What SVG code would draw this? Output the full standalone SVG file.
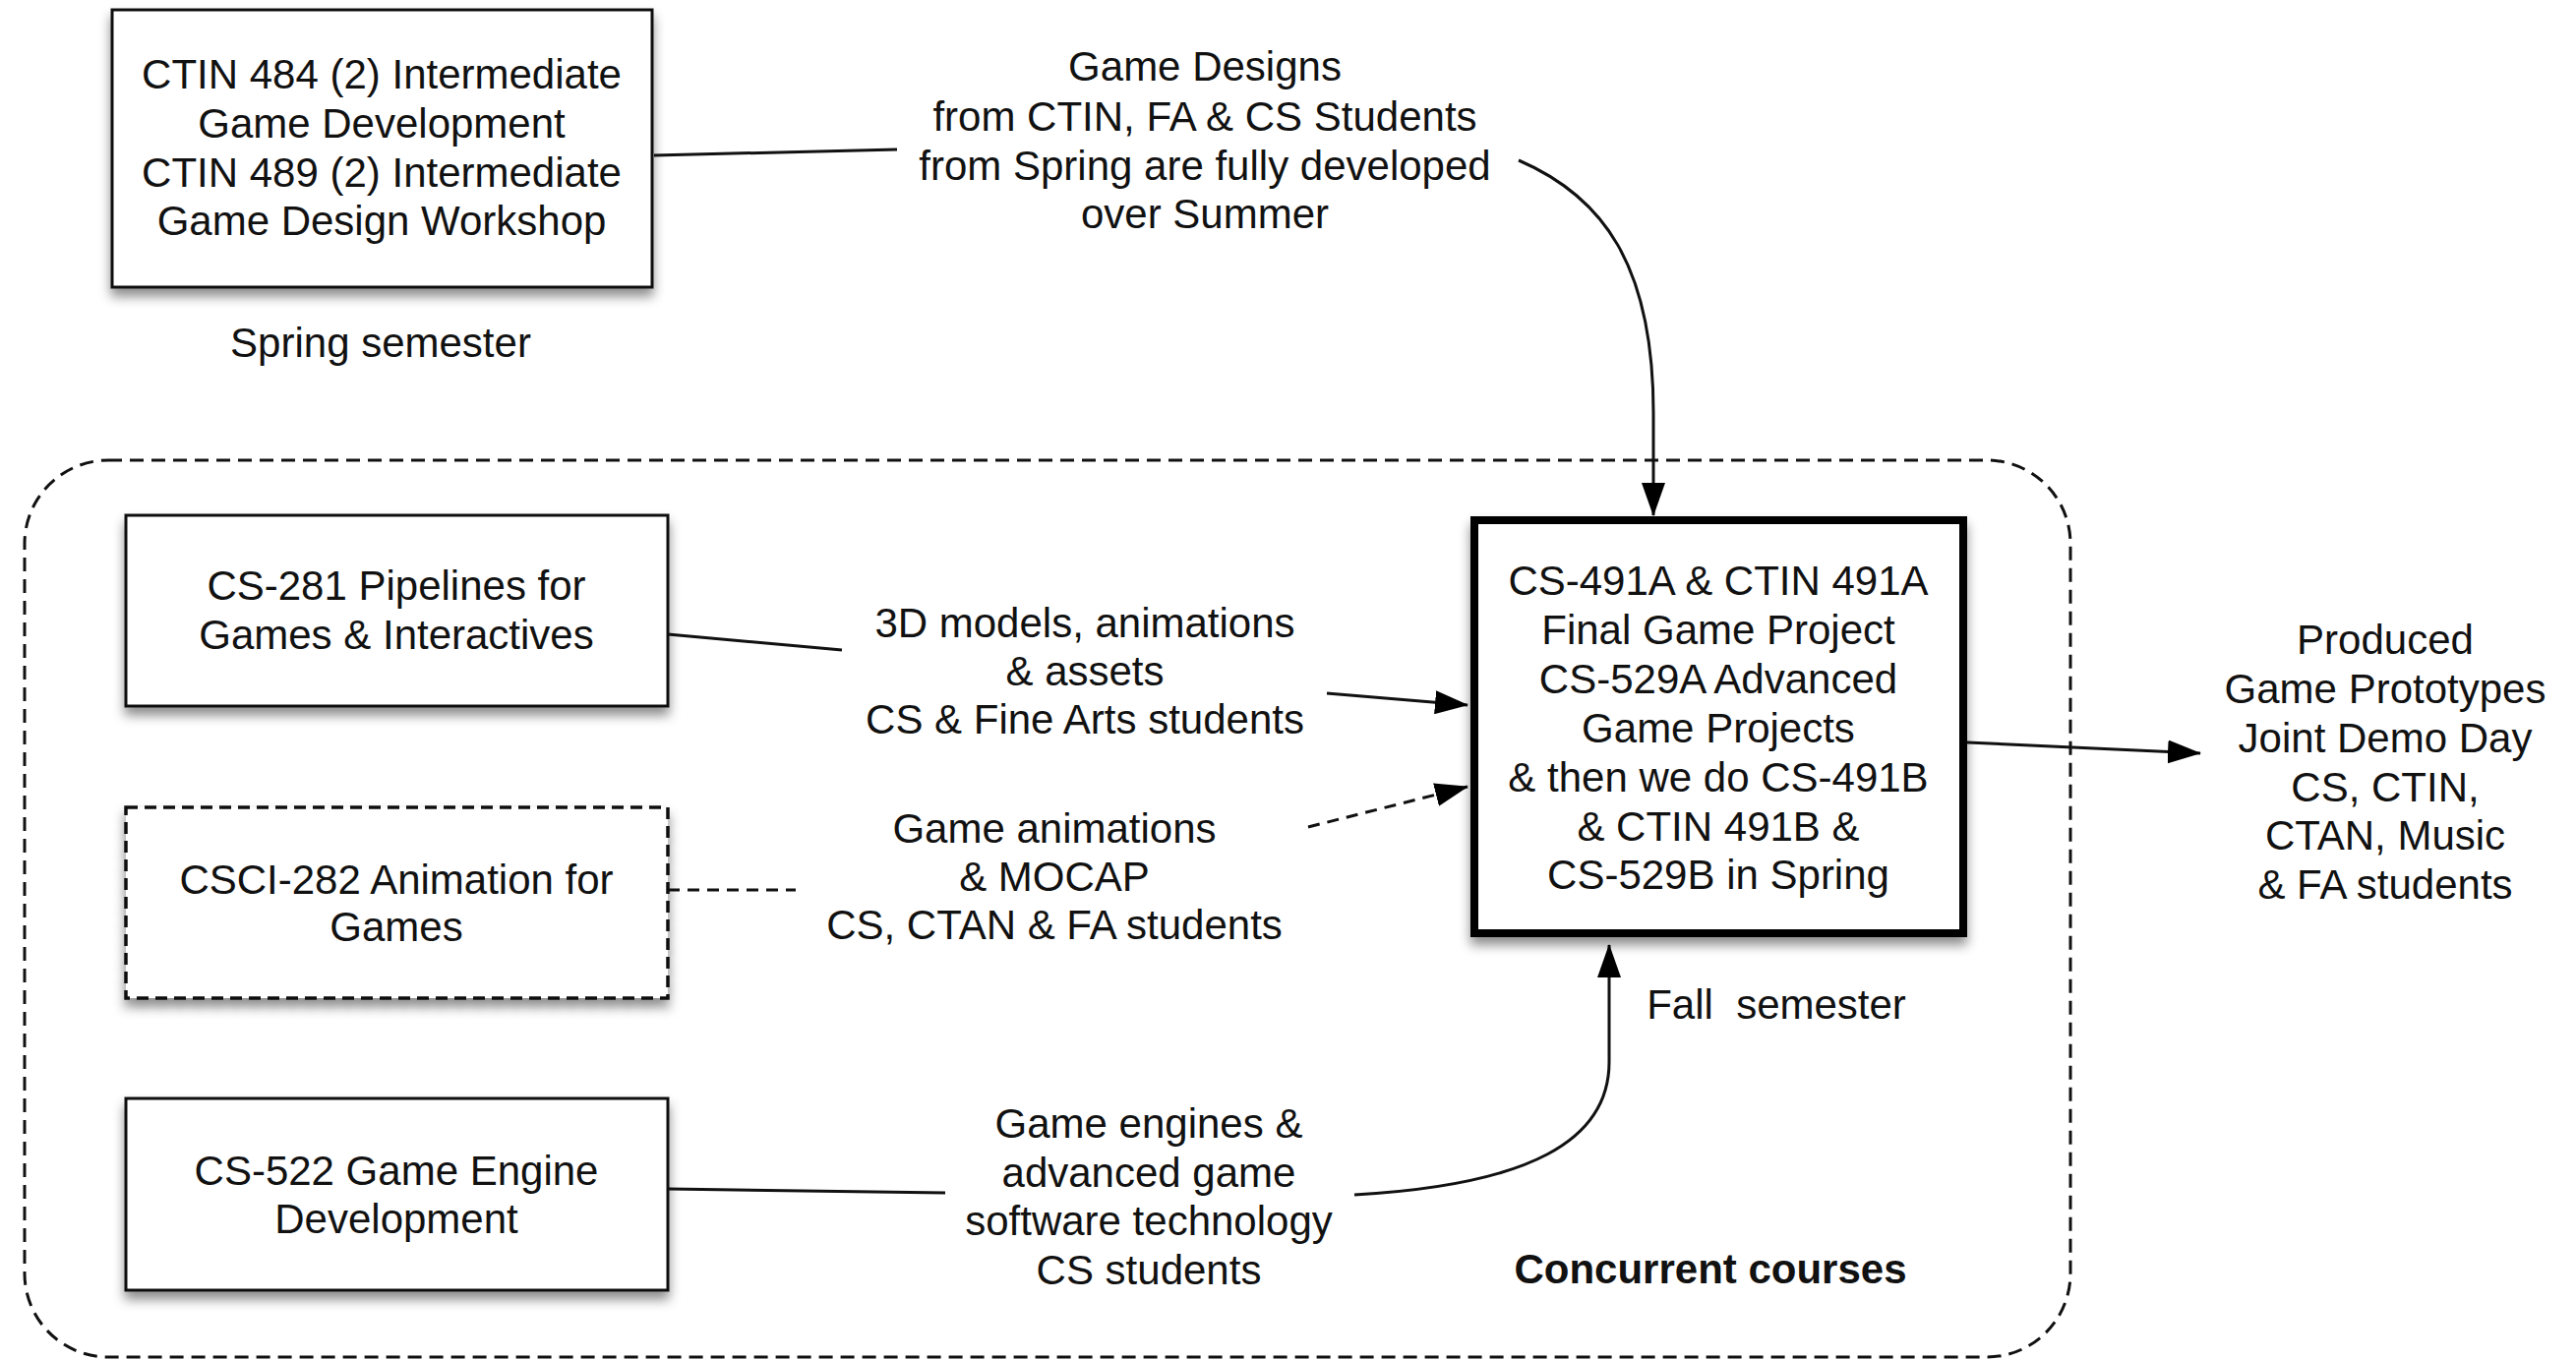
<svg xmlns="http://www.w3.org/2000/svg" width="2619" height="1383" viewBox="0 0 2619 1383">
<style>
text{font-family:"Liberation Sans",Arial,Helvetica,sans-serif;font-size:42px;fill:#111;text-anchor:middle}
.b{font-weight:bold}
.box{fill:#fff;stroke:#111;stroke-width:3;filter:url(#sh)}
.dbox{fill:#fff;stroke:#111;stroke-width:3.5;stroke-dasharray:12 7;filter:url(#sh)}
.thick{fill:#fff;stroke:#000;stroke-width:8;filter:url(#sh)}
.ln{fill:none;stroke:#111;stroke-width:3}
.dl{fill:none;stroke:#111;stroke-width:3;stroke-dasharray:12 8}
.grp{fill:none;stroke:#111;stroke-width:3;stroke-dasharray:14 8}
</style>
<defs>
<filter id="sh" x="-10%" y="-10%" width="120%" height="130%">
<feDropShadow dx="0" dy="8" stdDeviation="6" flood-color="#000" flood-opacity="0.45"/>
</filter>
<marker id="ah" markerUnits="userSpaceOnUse" markerWidth="34" markerHeight="24" refX="33" refY="12" orient="auto">
<path d="M0,0 L34,12 L0,24 z" fill="#000"/>
</marker>
</defs>
<rect width="2619" height="1383" fill="#fff"/>
<g id="group-concurrent">
<rect class="grp" x="25" y="468" width="2080" height="912" rx="85" ry="85"/>
<text class="b" x="1739" y="1305">Concurrent courses</text>
</g>
<g id="connectors">
<path class="ln" d="M665,158 L912,152"/>
<path class="ln" d="M1544,163 C1630,200 1681,270 1681,420 L1681,524" marker-end="url(#ah)"/>
<path class="ln" d="M679,645 L856,661"/>
<path class="ln" d="M1349,705 L1492,717" marker-end="url(#ah)"/>
<path class="dl" d="M679,905 L809,905"/>
<path class="dl" d="M1330,841 L1492,800" marker-end="url(#ah)"/>
<path class="ln" d="M680,1209 L961,1213"/>
<path class="ln" d="M1377,1215 C1555,1205 1636,1160 1636,1080 L1636,961" marker-end="url(#ah)"/>
<path class="ln" d="M2000,755 L2237,766" marker-end="url(#ah)"/>
</g>
<g id="label-game-designs">
<text x="1225" y="82">Game Designs</text>
<text x="1225" y="133">from CTIN, FA &amp; CS Students</text>
<text x="1225" y="183">from Spring are fully developed</text>
<text x="1225" y="232">over Summer</text>
</g>
<g id="label-3d">
<text x="1103" y="648">3D models, animations</text>
<text x="1103" y="697">&amp; assets</text>
<text x="1103" y="746">CS &amp; Fine Arts students</text>
</g>
<g id="label-anim">
<text x="1072" y="857">Game animations</text>
<text x="1072" y="906">&amp; MOCAP</text>
<text x="1072" y="955">CS, CTAN &amp; FA students</text>
</g>
<g id="label-engines">
<text x="1168" y="1157">Game engines &amp;</text>
<text x="1168" y="1207">advanced game</text>
<text x="1168" y="1256">software technology</text>
<text x="1168" y="1306">CS students</text>
</g>
<g id="node-ctin484">
<rect class="box" x="114" y="10" width="549" height="282"/>
<text x="388" y="90">CTIN 484 (2) Intermediate</text>
<text x="388" y="140">Game Development</text>
<text x="388" y="190">CTIN 489 (2) Intermediate</text>
<text x="388" y="239">Game Design Workshop</text>
<text x="387" y="363">Spring semester</text>
</g>
<g id="node-cs281">
<rect class="box" x="128" y="524" width="551" height="194"/>
<text x="403" y="610">CS-281 Pipelines for</text>
<text x="403" y="660">Games &amp; Interactives</text>
</g>
<g id="node-csci282">
<rect class="dbox" x="128" y="821" width="551" height="194"/>
<text x="403" y="909">CSCI-282 Animation for</text>
<text x="403" y="957">Games</text>
</g>
<g id="node-cs522">
<rect class="box" x="128" y="1117" width="551" height="195"/>
<text x="403" y="1205">CS-522 Game Engine</text>
<text x="403" y="1254">Development</text>
</g>
<g id="node-final">
<rect class="thick" x="1499" y="529" width="497" height="420"/>
<text x="1747" y="605">CS-491A &amp; CTIN 491A</text>
<text x="1747" y="655">Final Game Project</text>
<text x="1747" y="705">CS-529A Advanced</text>
<text x="1747" y="755">Game Projects</text>
<text x="1747" y="805">&amp; then we do CS-491B</text>
<text x="1747" y="855">&amp; CTIN 491B &amp;</text>
<text x="1747" y="904">CS-529B in Spring</text>
<text x="1806" y="1036" xml:space="preserve">Fall  semester</text>
</g>
<g id="label-produced">
<text x="2425" y="665">Produced</text>
<text x="2425" y="715">Game Prototypes</text>
<text x="2425" y="765">Joint Demo Day</text>
<text x="2425" y="815">CS, CTIN,</text>
<text x="2425" y="864">CTAN, Music</text>
<text x="2425" y="914">&amp; FA students</text>
</g>
</svg>
